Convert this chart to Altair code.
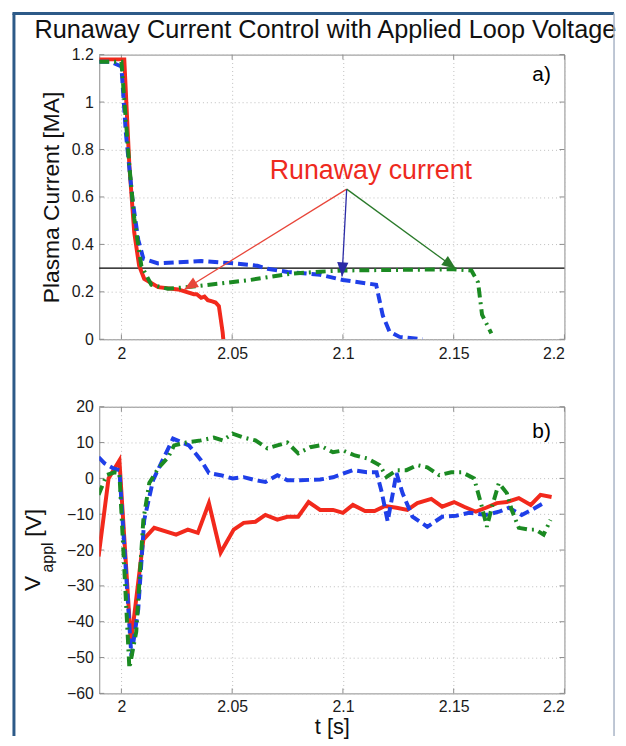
import math
import altair as alt
import pandas as pd

# ---------------- data ----------------
TITLE = "Runaway Current Control with Applied Loop Voltage"

x_ticks = [2.0, 2.05, 2.1, 2.15, 2.2]
ya_ticks = [0, 0.2, 0.4, 0.6, 0.8, 1, 1.2]
yb_ticks = [-60, -50, -40, -30, -20, -10, 0, 10, 20]

# panel a: plasma current [MA]
red_a_t = [1.990, 1.995, 2.000, 2.0013, 2.0036, 2.0058, 2.008, 2.0103, 2.0166, 2.0256,
           2.0327, 2.034, 2.036, 2.0375, 2.039, 2.041, 2.0425, 2.044, 2.0457, 2.046]
red_a_i = [1.18, 1.18, 1.18, 1.18, 0.73, 0.45, 0.31, 0.255, 0.22, 0.21,
           0.19, 0.19, 0.175, 0.18, 0.165, 0.16, 0.155, 0.14, 0.03, 0.0]

blue_a_t = [1.990, 1.995, 2.000, 2.002, 2.005, 2.0076, 2.0099, 2.0166, 2.036, 2.0507,
            2.0614, 2.066, 2.075, 2.0897, 2.1, 2.115, 2.118, 2.121, 2.1256, 2.136]
blue_a_i = [1.17, 1.17, 1.15, 0.87, 0.59, 0.42, 0.34, 0.32, 0.33, 0.32,
            0.31, 0.297, 0.284, 0.272, 0.25, 0.23, 0.10, 0.033, 0.01, 0.0]

green_a_t = [1.990, 1.995, 2.000, 2.0013, 2.0036, 2.0058, 2.009, 2.0135, 2.021, 2.030,
             2.0435, 2.058, 2.076, 2.0897, 2.1, 2.15, 2.158, 2.161, 2.1628, 2.167]
green_a_i = [1.17, 1.17, 1.17, 1.01, 0.73, 0.51, 0.31, 0.23, 0.213, 0.22,
             0.234, 0.25, 0.276, 0.285, 0.29, 0.295, 0.29, 0.24, 0.104, 0.025]

threshold_a = [0.3]

# annotation arrows (from common origin to each curve)
arrow_t0 = [2.1017, 2.1017, 2.1017]
arrow_y0 = [0.633, 0.633, 0.633]
arrow_t1 = [2.0283, 2.0996, 2.151]
arrow_y1 = [0.209, 0.265, 0.297]
arrow_col = ["#e8463a", "#2b2ba6", "#2a7a2a"]

annot_text = ["Runaway current"]
annot_t = [2.1126]
annot_y = [0.711]

# panel b: applied loop voltage [V]
red_b_t = [1.9897, 1.9942, 1.9991, 2.0043, 2.0099, 2.0148, 2.0247, 2.030, 2.0345, 2.0395,
           2.0448, 2.0507, 2.0552, 2.0605, 2.065, 2.0704, 2.0749, 2.0798, 2.0845, 2.0897,
           2.0955, 2.1, 2.1045, 2.110, 2.1143, 2.119, 2.1242, 2.1291, 2.1336, 2.1399,
           2.1448, 2.1502, 2.1547, 2.160, 2.1646, 2.1695, 2.174, 2.1794, 2.1848, 2.1892,
           2.1942]
red_b_v = [-21.8, 0.0, 5.0, -46.0, -17.1, -13.8, -15.7, -14.3, -15.2, -6.9,
           -20.7, -14.3, -12.4, -12.1, -10.2, -11.5, -10.7, -10.7, -6.6, -8.8,
           -8.8, -9.6, -7.4, -9.1, -9.1, -7.7, -8.2, -8.8, -6.9, -5.7,
           -7.9, -6.6, -7.9, -9.3, -8.2, -6.9, -6.6, -5.5, -7.4, -4.6,
           -5.2]

blue_b_t = [1.9897, 1.9924, 1.9964, 1.9991, 2.0045, 2.0076, 2.0103, 2.0143, 2.0179, 2.0233,
            2.0305, 2.0359, 2.0395, 2.0448, 2.0502, 2.0552, 2.0605, 2.065, 2.0704, 2.0749,
            2.0807, 2.0897, 2.0955, 2.1045, 2.1108, 2.1152, 2.1175, 2.1202, 2.1242, 2.1269,
            2.1314, 2.1381, 2.1448, 2.1511, 2.157, 2.1646, 2.1704, 2.1749, 2.1807, 2.1852,
            2.1906]
blue_b_v = [5.9, 4.2, 2.8, 2.3, -49.5, -36.5, -11.6, -0.5, 4.2, 11.1,
            9.2, 5.1, 1.5, 0.9, 0.0, 0.35, -0.5, -1.0, 0.9, -0.5,
            -0.5, -0.3, 0.3, 2.3, 1.7, 1.7, -3.8, -12.0, 1.5, -4.1,
            -10.7, -13.5, -10.7, -10.4, -9.6, -10.2, -9.3, -8.2, -10.2, -8.8,
            -6.9]

green_b_t = [1.9897, 1.9933, 1.9969, 1.9991, 2.0036, 2.0067, 2.0099, 2.0126, 2.0166, 2.0211,
             2.0238, 2.0291, 2.0359, 2.0417, 2.0457, 2.0502, 2.0552, 2.0605, 2.0659, 2.0704,
             2.0749, 2.0798, 2.0852, 2.0897, 2.0955, 2.1, 2.1054, 2.1108, 2.1166, 2.1197,
             2.1242, 2.1287, 2.1336, 2.1381, 2.1435, 2.1489, 2.1538, 2.1592, 2.1623, 2.165,
             2.1673, 2.1704, 2.174, 2.1762, 2.1794, 2.1839, 2.187, 2.1906, 2.1937]
green_b_v = [-4.6, 0.9, 1.7, 1.5, -53.0, -42.8, -11.6, -1.3, 2.8, 5.9,
             9.2, 10.0, 10.6, 11.4, 10.6, 12.5, 11.4, 10.6, 8.4, 9.2,
             10.0, 7.0, 8.7, 9.2, 7.3, 7.8, 6.4, 5.6, 3.7, 0.4,
             2.3, 2.3, 3.7, 3.1, 0.9, 1.7, 1.7, 0.0, -6.9, -13.5,
             -7.9, -1.3, -4.1, -8.8, -13.8, -14.3, -14.3, -15.7, -11.6]

panel_labels = ["a)", "b)"]
panel_label_t = [2.1897, 2.1897]
panel_label_y = [1.112, 12.8]

# ---------------- style ----------------
W, HA, HB = 469, 287, 289
XDOM = [1.99, 2.2]
YADOM = [0, 1.2]
YBDOM = [-60, 20]
FONT = "Liberation Sans"
RED = "#f2291c"
BLUE = "#1f3fe8"
GREEN = "#1b8a22"
FRAME = "#8c8c8c"
BORDER = "#2d5a88"

xs = alt.Scale(domain=XDOM, nice=False, zero=False)
yas = alt.Scale(domain=YADOM, nice=False, zero=False)
ybs = alt.Scale(domain=YBDOM, nice=False, zero=False)

x_axis_a = alt.Axis(values=x_ticks, format="~g", title="")
x_axis_b = alt.Axis(values=x_ticks, format="~g", title="t [s]", titlePadding=2, labelPadding=5)
y_axis_a = alt.Axis(values=ya_ticks, format="~g", title="Plasma Current [MA]", titlePadding=8,
                    titleFontSize=23)
y_axis_b = alt.Axis(values=yb_ticks, format="d", title="")


def XE(field, axis):
    return alt.X(f"{field}:Q", scale=xs, axis=axis)


def lines_df(ts, vs):
    return pd.DataFrame({"t": ts, "v": vs})


def curve(ts, vs, color, dash, xaxis, yenc):
    kw = dict(color=color, strokeWidth=4, clip=True)
    if dash:
        kw["strokeDash"] = dash
    return alt.Chart(lines_df(ts, vs)).mark_line(**kw).encode(
        x=XE("t", xaxis), y=yenc("v"))


def YA(field):
    return alt.Y(f"{field}:Q", scale=yas, axis=y_axis_a)


def YB(field):
    return alt.Y(f"{field}:Q", scale=ybs, axis=y_axis_b)


def inward_ticks(xaxis, yenc, yvals, H):
    xt = pd.DataFrame({"t": x_ticks})
    yt = pd.DataFrame({"v": yvals})
    bottom = alt.Chart(xt).mark_rule(color=FRAME).encode(
        x=XE("t", xaxis), y=alt.value(H), y2=alt.value(H - 5))
    top = alt.Chart(xt).mark_rule(color=FRAME).encode(
        x=XE("t", xaxis), y=alt.value(0), y2=alt.value(5))
    left = alt.Chart(yt).mark_rule(color=FRAME).encode(
        y=yenc("v"), x=alt.value(0), x2=alt.value(5))
    right = alt.Chart(yt).mark_rule(color=FRAME).encode(
        y=yenc("v"), x=alt.value(W - 5), x2=alt.value(W))
    return [bottom, top, left, right]


# ---------------- panel a ----------------
thr = alt.Chart(pd.DataFrame({"v": threshold_a})).mark_rule(color="black", strokeWidth=1.3).encode(
    y=YA("v"))

arrows = pd.DataFrame({"t0": arrow_t0, "y0": arrow_y0, "t1": arrow_t1, "y1": arrow_y1, "c": arrow_col})
sx = W / (XDOM[1] - XDOM[0])
sy = HA / (YADOM[1] - YADOM[0])
arrows["ang"] = [
    math.degrees(math.atan2((t1 - t0) * sx, (y1 - y0) * sy)) % 360
    for t0, y0, t1, y1 in zip(arrow_t0, arrow_y0, arrow_t1, arrow_y1)
]

shafts = alt.Chart(arrows).mark_rule(strokeWidth=1.3).encode(
    x=XE("t0", x_axis_a), y=YA("y0"), x2="t1:Q", y2="y1:Q",
    color=alt.Color("c:N", scale=None))

heads = alt.Chart(arrows).mark_point(
    shape="M0,0 L-0.4,1 L0.4,1 Z", filled=True, opacity=1, size=800, strokeWidth=0).encode(
    x=XE("t1", x_axis_a), y=YA("y1"),
    color=alt.Color("c:N", scale=None),
    angle=alt.Angle("ang:Q", scale=None))

annot = alt.Chart(pd.DataFrame({"t": annot_t, "v": annot_y, "txt": annot_text})).mark_text(
    color="#ee2a1e", fontSize=27, align="center", baseline="middle").encode(
    x=XE("t", x_axis_a), y=YA("v"), text="txt:N")

lab_a = alt.Chart(pd.DataFrame({"t": panel_label_t[:1], "v": panel_label_y[:1], "txt": panel_labels[:1]})).mark_text(
    color="black", fontSize=21, align="center", baseline="middle").encode(
    x=XE("t", x_axis_a), y=YA("v"), text="txt:N")

dummy = pd.DataFrame({"k": [0]})
title_mark = alt.Chart(pd.DataFrame({"txt": [TITLE]})).mark_text(
    fontSize=25.5, color="#111", align="center", baseline="middle").encode(
    x=alt.value(228), y=alt.value(-25), text="txt:N")
border_left = alt.Chart(dummy).mark_rule(color=BORDER, strokeWidth=3).encode(
    x=alt.value(-86), y=alt.value(-41.5), y2=alt.value(687))
border_top = alt.Chart(dummy).mark_rule(color=BORDER, strokeWidth=3).encode(
    x=alt.value(-87.5), x2=alt.value(519), y=alt.value(-41.5))
border_right = alt.Chart(dummy).mark_rule(color="#a9b4c6", strokeWidth=1.5).encode(
    x=alt.value(519), y=alt.value(-41.5), y2=alt.value(687))

panel_a = alt.layer(
    *inward_ticks(x_axis_a, YA, ya_ticks, HA),
    thr,
    curve(red_a_t, red_a_i, RED, None, x_axis_a, YA),
    curve(blue_a_t, blue_a_i, BLUE, [10, 5], x_axis_a, YA),
    curve(green_a_t, green_a_i, GREEN, [10, 5, 2, 5], x_axis_a, YA),
    shafts, heads, annot, lab_a,
    title_mark, border_left, border_top, border_right,
).properties(width=W, height=HA)

# ---------------- panel b ----------------
lab_b = alt.Chart(pd.DataFrame({"t": panel_label_t[1:], "v": panel_label_y[1:], "txt": panel_labels[1:]})).mark_text(
    color="black", fontSize=21, align="center", baseline="middle").encode(
    x=XE("t", x_axis_b), y=YB("v"), text="txt:N")

vt_main = alt.Chart(pd.DataFrame({"txt": ["V"]})).mark_text(
    fontSize=23, angle=270, align="center", baseline="middle", color="#111").encode(
    x=alt.value(-67), y=alt.value(178), text="txt:N")
vt_sub = alt.Chart(pd.DataFrame({"txt": ["appl"]})).mark_text(
    fontSize=16, angle=270, align="center", baseline="middle", color="#111").encode(
    x=alt.value(-52), y=alt.value(152), text="txt:N")
vt_unit = alt.Chart(pd.DataFrame({"txt": ["[V]"]})).mark_text(
    fontSize=23, angle=270, align="center", baseline="middle", color="#111").encode(
    x=alt.value(-66), y=alt.value(117), text="txt:N")

panel_b = alt.layer(
    *inward_ticks(x_axis_b, YB, yb_ticks, HB),
    curve(red_b_t, red_b_v, RED, None, x_axis_b, YB),
    curve(blue_b_t, blue_b_v, BLUE, [10, 5], x_axis_b, YB),
    curve(green_b_t, green_b_v, GREEN, [10, 5, 2, 5], x_axis_b, YB),
    lab_b, vt_main, vt_sub, vt_unit,
).properties(width=W, height=HB)

chart = alt.vconcat(panel_a, panel_b, spacing=68, bounds="flush").properties(
    padding={"left": 2, "top": 0, "right": 0, "bottom": 0}
).configure(font=FONT, background="white").configure_view(
    stroke=FRAME, strokeWidth=1
).configure_axis(
    domain=False, ticks=False, grid=True, gridColor="#bdbdbd", gridDash=[1, 3], gridWidth=1,
    labelFontSize=16, labelColor="#1a1a1a", labelPadding=6,
    titleFontSize=22, titleFontWeight="normal", titleColor="#111",
)

chart.save("out.html", embed_options={"renderer": "svg", "actions": False})
